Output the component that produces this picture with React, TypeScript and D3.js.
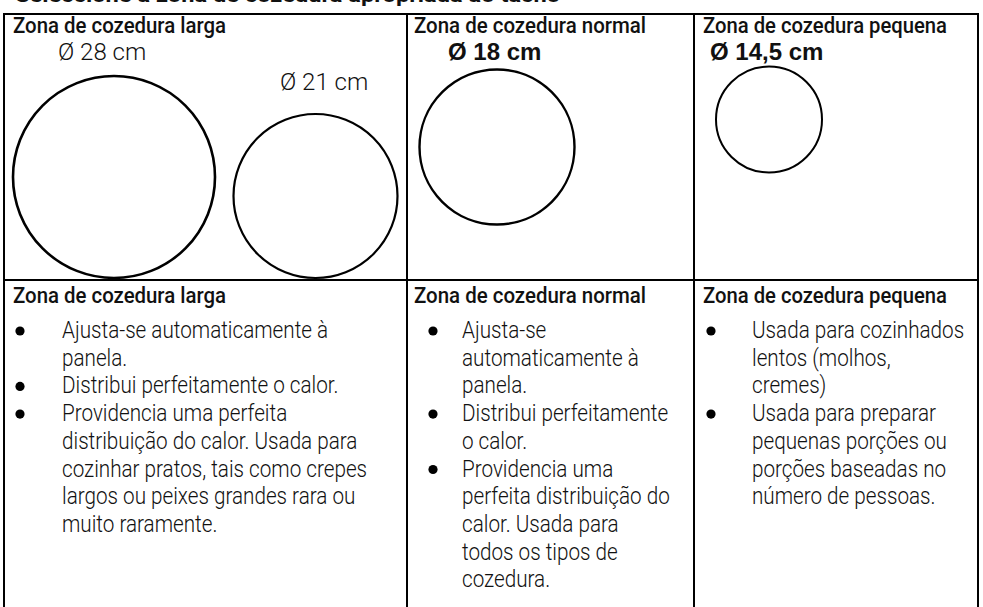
import React, { useEffect, useRef } from "react";
import * as d3 from "d3";

// cabeçalhos das três zonas
const zoneNames = [
    "Zona de cozedura larga",
    "Zona de cozedura normal",
    "Zona de cozedura pequena",
];

// diâmetros dos anéis (cm) e zona a que pertencem
const diametersCm = [28, 21, 18, 14.5];
const diameterLabels = ["Ø 28 cm", "Ø 21 cm", "Ø 18 cm", "Ø 14,5 cm"];
const ringZone = [0, 0, 1, 2];
const labelBold = [false, false, true, true];

// texto descritivo, já partido em linhas como no original
const zoneBullets: string[][][] = [
    [
        ["Ajusta-se automaticamente à", "panela."],
        ["Distribui perfeitamente o calor."],
        [
            "Providencia uma perfeita",
            "distribuição do calor. Usada para",
            "cozinhar pratos, tais como crepes",
            "largos ou peixes grandes rara ou",
            "muito raramente.",
        ],
    ],
    [
        ["Ajusta-se", "automaticamente à", "panela."],
        ["Distribui perfeitamente", "o calor."],
        [
            "Providencia uma",
            "perfeita distribuição do",
            "calor. Usada para",
            "todos os tipos de",
            "cozedura.",
        ],
    ],
    [
        ["Usada para cozinhados", "lentos (molhos,", "cremes)"],
        [
            "Usada para preparar",
            "pequenas porções ou",
            "porções baseadas no",
            "número de pessoas.",
        ],
    ],
];

const titleText = "Seleccione a zona de cozedura apropriada ao tacho";

const W = 983;
const H = 607;

const App: React.FC = () => {
    const svgRef = useRef<SVGSVGElement | null>(null);

    useEffect(() => {
        if (!svgRef.current) return;
        const svg = d3.select(svgRef.current);
        svg.selectAll("*").remove();
        svg.attr("width", W).attr("height", H);

        const colEdges = [4, 407, 694, 978];
        const rowEdges = [14, 280, H];
        const font = "Roboto, 'Liberation Sans', sans-serif";

        // raio em função do diâmetro
        const r = d3.scaleLinear().domain([14.5, 18, 21, 28]).range([53, 77.5, 82, 101]);
        // linhas do texto da linha inferior
        const lineY = d3.scaleLinear().domain([0, 1]).range([338, 365.7]);

        // título cortado no topo (como no original)
        svg.append("text")
            .attr("x", 15)
            .attr("y", 2)
            .attr("font-family", font)
            .attr("font-weight", 700)
            .attr("font-size", 20)
            .attr("textLength", 545)
            .attr("lengthAdjust", "spacingAndGlyphs")
            .attr("fill", "#111")
            .text(titleText);

        // grelha da tabela
        const grid = svg.append("g").attr("stroke", "#000").attr("stroke-width", 2);
        grid.append("line")
            .attr("x1", colEdges[0]).attr("x2", colEdges[3])
            .attr("y1", rowEdges[0]).attr("y2", rowEdges[0]);
        grid.append("line")
            .attr("x1", colEdges[0]).attr("x2", colEdges[3])
            .attr("y1", rowEdges[1]).attr("y2", rowEdges[1]);
        colEdges.forEach((x) => {
            grid.append("line")
                .attr("x1", x).attr("x2", x)
                .attr("y1", rowEdges[0] - 1).attr("y2", rowEdges[2]);
        });

        const headerX = [9, 7, 9];
        const headerLen = [213, 232, 244];

        zoneNames.forEach((name, i) => {
            [33, 303].forEach((y) => {
                svg.append("text")
                    .attr("x", colEdges[i] + headerX[i])
                    .attr("y", y)
                    .attr("font-family", font)
                    .attr("font-weight", 500)
                    .attr("font-size", 21.5)
                    .attr("textLength", headerLen[i])
                    .attr("lengthAdjust", "spacingAndGlyphs")
                    .attr("fill", "#111")
                    .text(name);
            });
        });

        // anéis
        const ringCx = [110, 311.5, 90, 75];
        const ringCy = [177, 196, 147, 119.5];
        const ringStroke = [2.6, 2.2, 2.4, 2];
        const labelX = [54, 276, 41, 16];
        const labelY = [60, 90, 60, 60];

        diametersCm.forEach((d, i) => {
            const left = colEdges[ringZone[i]];
            svg.append("circle")
                .attr("cx", left + ringCx[i])
                .attr("cy", ringCy[i])
                .attr("r", r(d))
                .attr("fill", "none")
                .attr("stroke", "#000")
                .attr("stroke-width", ringStroke[i]);
            svg.append("text")
                .attr("x", left + labelX[i])
                .attr("y", labelY[i])
                .attr("font-family", labelBold[i] ? "'Liberation Sans', Arial, sans-serif" : font)
                .attr("font-weight", labelBold[i] ? 700 : 300)
                .attr("font-size", 24)
                .attr("fill", "#111")
                .text(diameterLabels[i]);
        });

        // listas com marcadores
        const bulletX = [16, 26, 17];
        const textX = [58, 55, 58];

        zoneBullets.forEach((items, c) => {
            let line = 0;
            items.forEach((lines) => {
                svg.append("circle")
                    .attr("cx", colEdges[c] + bulletX[c])
                    .attr("cy", lineY(line) - 7)
                    .attr("r", 4.6)
                    .attr("fill", "#000");
                lines.forEach((t) => {
                    svg.append("text")
                        .attr("transform", `translate(${colEdges[c] + textX[c]},${lineY(line)}) scale(0.88,1)`)
                        .attr("font-family", font)
                        .attr("font-weight", 300)
                        .attr("font-size", 23.5)
                        .attr("fill", "#111")
                        .text(t);
                    line++;
                });
            });
        });
    }, []);

    return (
        <svg
            ref={svgRef}
            style={{ position: "absolute", left: 0, top: 0, background: "#fff" }}
        ></svg>
    );
};

export default App;
